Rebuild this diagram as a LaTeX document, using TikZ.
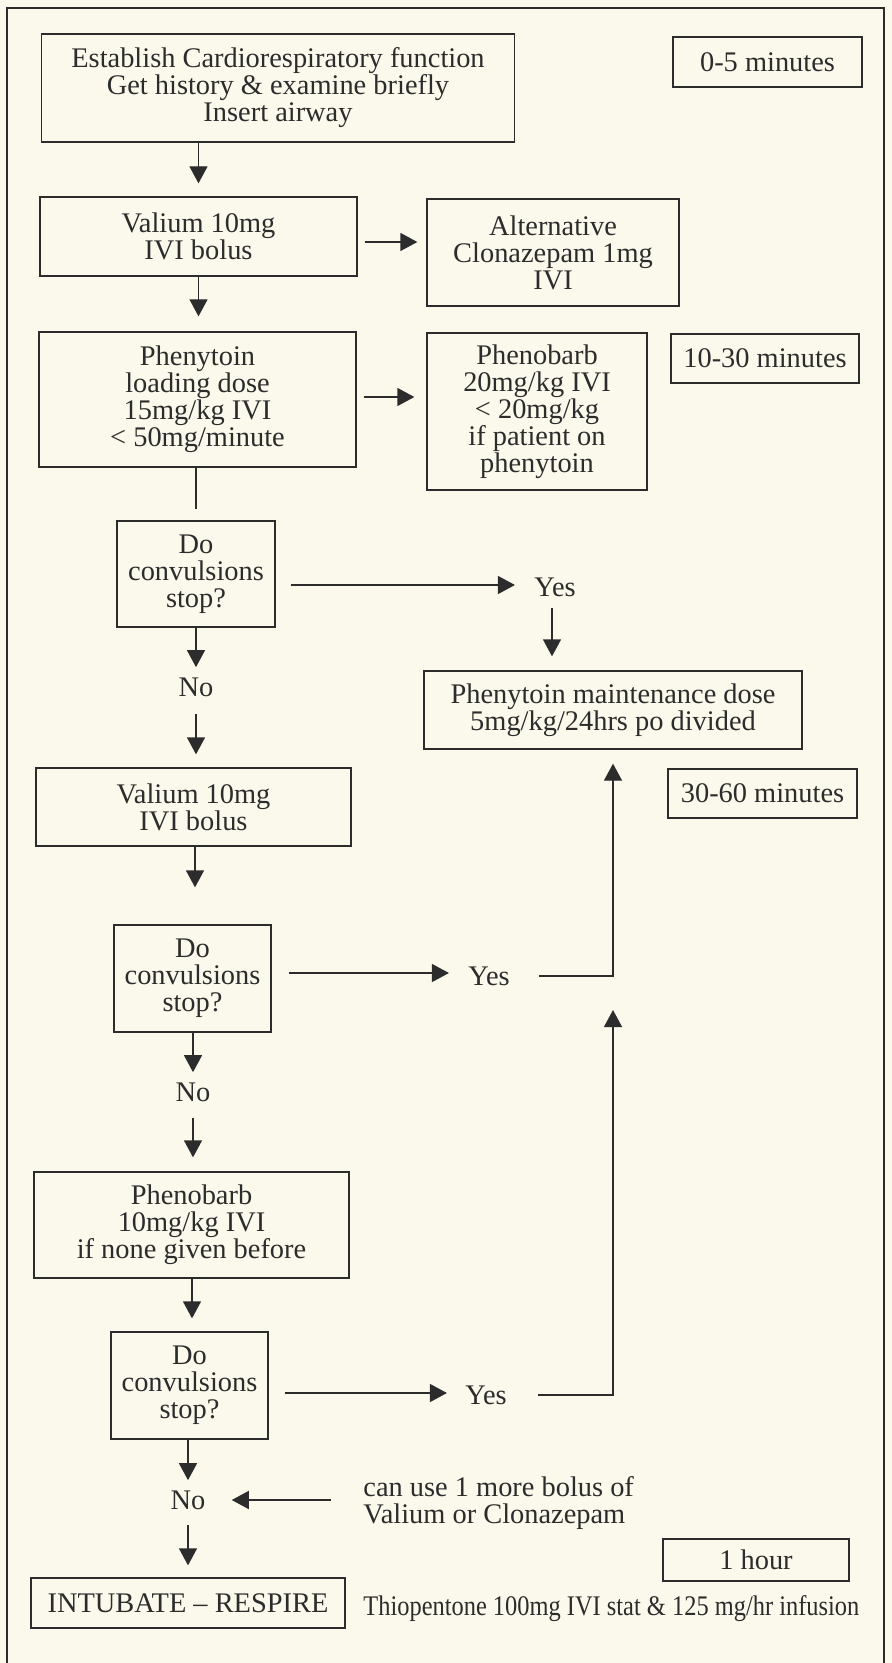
\documentclass[tikz,border=0pt]{standalone}
\usepackage{fontspec}
\setmainfont{Liberation Serif}
\usetikzlibrary{positioning,arrows.meta}
\definecolor{paper}{HTML}{FBF9EC}
\definecolor{ink}{HTML}{2C2C2C}

\begin{document}
\begin{tikzpicture}[x=0.5pt,y=-0.5pt,
    every node/.style={text=ink,font=\fontsize{14.2}{13.5}\selectfont},
    box/.style={draw=ink,line width=0.65pt,align=center,inner sep=0pt},
    lbl/.style={inner sep=0pt},
    arr/.style={draw=ink,line width=0.65pt,-{Triangle[length=8.5pt,width=9pt]}},
    ln/.style={draw=ink,line width=0.65pt}]
  \useasboundingbox (0,0) rectangle (892,1663);
  \fill[paper] (0,0) rectangle (892,1663);
  \draw[ln] (7,1663) -- (7,8) -- (884,8) -- (884,1663);% page frame

  % time markers
  \node[box,minimum width=94.5pt,minimum height=25pt] (t05) at (767.5,62) {0-5 minutes};
  \node[box,minimum width=94pt,minimum height=24.5pt] (t1030) at (765,358.5) {10-30 minutes};
  \node[box,minimum width=94.5pt,minimum height=24.5pt] (t3060) at (762.5,793.5) {30-60 minutes};
  \node[box,minimum width=93pt,minimum height=21pt] (t1h) at (756,1560) {1 hour};

  % left column
  \node[box,minimum width=236.5pt,minimum height=54pt] (est) at (278,88)
    {Establish Cardiorespiratory function\\Get history \& examine briefly\\Insert airway};
  \node[box,minimum width=158.5pt,minimum height=39.5pt] (val1) at (198.5,236.5) {Valium 10mg\\IVI bolus};
  \node[box,minimum width=158.5pt,minimum height=67.5pt] (phen) at (197.5,399.5)
    {Phenytoin\\loading dose\\15mg/kg IVI\\< 50mg/minute};
  \node[box,minimum width=79pt,minimum height=53pt] (do1) at (196,574) {Do\\convulsions\\stop?};
  \node[lbl] (no1) at (196,687) {No};
  \node[box,minimum width=157.5pt,minimum height=39pt] (val2) at (193.5,807) {Valium 10mg\\IVI bolus};
  \node[box,minimum width=78.5pt,minimum height=53.5pt] (do2) at (192.5,978.5) {Do\\convulsions\\stop?};
  \node[lbl] (no2) at (193,1092) {No};
  \node[box,minimum width=157.5pt,minimum height=53pt] (pheno2) at (191.5,1225)
    {Phenobarb\\10mg/kg IVI\\if none given before};
  \node[box,minimum width=78.5pt,minimum height=53.5pt] (do3) at (189.5,1385.5) {Do\\convulsions\\stop?};
  \node[lbl] (no3) at (188,1500) {No};
  \node[box,minimum width=157pt,minimum height=25pt] (intub) at (188,1603) {INTUBATE -- RESPIRE};

  % right column
  \node[box,minimum width=126pt,minimum height=53.5pt] (alt) at (553,252.5)
    {Alternative\\Clonazepam 1mg\\IVI};
  \node[box,minimum width=110pt,minimum height=78.5pt] (pheno1) at (537,411.5)
    {Phenobarb\\20mg/kg IVI\\< 20mg/kg\\if patient on\\phenytoin};
  \node[lbl] (yes1) at (555,587) {Yes};
  \node[box,minimum width=189pt,minimum height=39pt] (maint) at (613,710)
    {Phenytoin maintenance dose\\5mg/kg/24hrs po divided};
  \node[lbl] (yes2) at (489,976) {Yes};
  \node[lbl] (yes3) at (486,1395) {Yes};
  \node[lbl,align=left,anchor=west] (bolus) at (363,1503.5) {can use 1 more bolus of\\Valium or Clonazepam};
  \node[lbl,anchor=west] (thio) at (363,1609)
    {\scalebox{0.86}[1]{Thiopentone 100mg IVI stat \& 125 mg/hr infusion}};

  \coordinate (j2) at (yes2.east -| maint.south);

  \draw[arr,shorten >=6.5pt] (est.south -| val1) -- (val1.north);
  \draw[arr,shorten <=3.5pt,shorten >=4.5pt] (val1.east |- 0,242) -- (alt.west |- 0,242);
  \draw[arr,shorten >=7.5pt] (val1.south) -- (val1.south |- phen.north);
  \draw[arr,shorten <=3.5pt,shorten >=6pt] (phen.east |- 0,397) -- (pheno1.west |- 0,397);
  \draw[ln,shorten >=5.5pt] (phen.south -| do1) -- (do1.north);
  \draw[arr,shorten <=7.5pt,shorten >=9.5pt] (do1.east |- 0,585) -- (yes1.west |- 0,585);
  \draw[arr,shorten <=5.5pt,shorten >=7pt] (yes1.south -| 552,0) -- (maint.north -| 552,0);
  \draw[arr,shorten >=5pt] (do1.south) -- (no1.north);
  \draw[arr,shorten <=8.5pt,shorten >=6.5pt] (no1.south) -- (no1.south |- val2.north);
  \draw[arr,shorten >=18.5pt] (val2.south -| 195,0) -- (do2.north -| 195,0);
  \draw[arr,shorten <=8.5pt,shorten >=9.5pt] (do2.east |- 0,973) -- (yes2.west |- 0,973);
  \draw[arr,shorten <=14.5pt,shorten >=7pt] (yes2.east) -- (j2) -- (maint.south);
  \draw[arr,shorten >=5pt] (do2.south -| no2) -- (no2.north);
  \draw[arr,shorten <=8pt,shorten >=7pt] (no2.south) -- (no2.south |- pheno2.north);
  \draw[arr,shorten >=6.5pt] (pheno2.south -| 192,0) -- (do3.north -| 192,0);
  \draw[arr,shorten <=8pt,shorten >=9pt] (do3.east |- 0,1393) -- (yes3.west |- 0,1393);
  \draw[arr,shorten <=15.5pt,shorten >=17pt] (yes3.east) -- (yes3.east -| j2) -- (j2);
  \draw[arr,shorten >=5pt] (do3.south -| no3) -- (no3.north);
  \draw[arr,shorten <=16pt,shorten >=13pt] (bolus.west |- no3) -- (no3.east);
  \draw[arr,shorten <=7.5pt,shorten >=6pt] (no3.south) -- (intub.north -| no3);
\end{tikzpicture}
\end{document}
